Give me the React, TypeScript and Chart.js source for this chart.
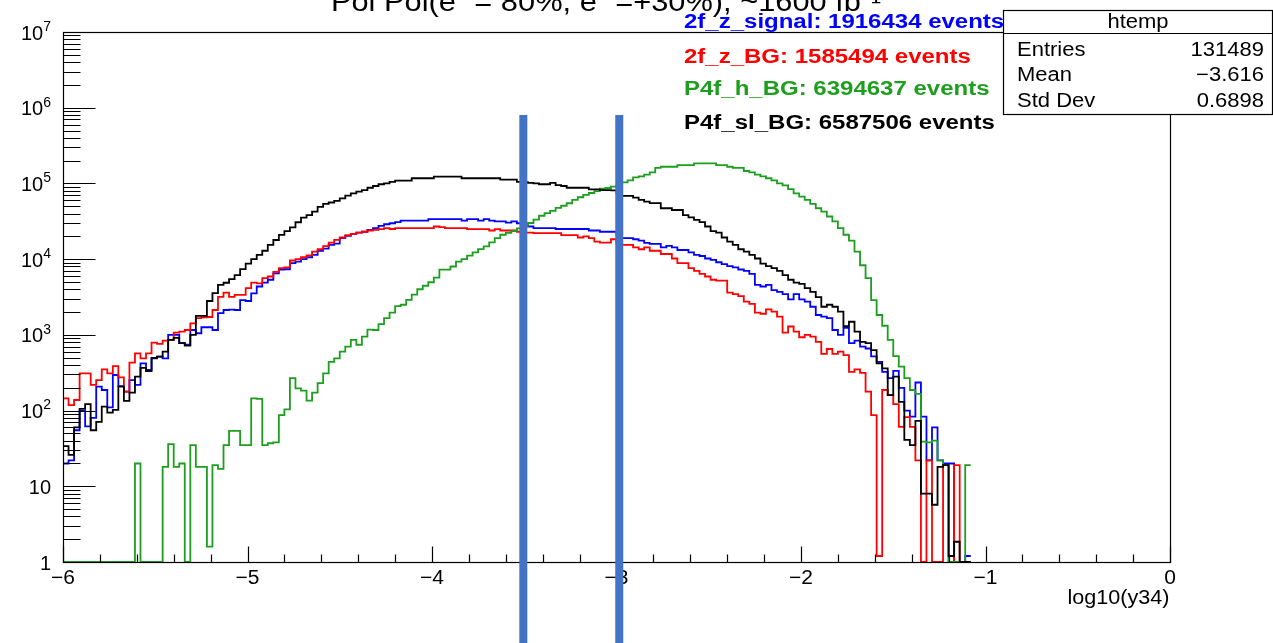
import React, { useEffect, useRef } from "react";
import { Chart, registerables } from "chart.js";

Chart.register(...registerables);

// ---- histogram binning (bin lower edge of first bin, bin width) ----
const HIST_MIN = -6;
const BIN_WIDTH = 0.03;
const X_MIN = -6;
const X_MAX = 0;
const Y_MIN = 1;
const Y_MAX = 1e7;

// ---- series values, one per bin (bins of 0.03 in log10(y34), starting at -6) ----
const P4F_SL_BG = [
  34, 26, 60, 105, 122, 55, 71, 113, 94, 102,
  207, 134, 173, 280, 366, 333, 495, 515, 600, 860,
  910, 780, 720, 1000, 1780, 1780, 2800, 3550, 4560, 4880,
  5450, 6150, 7400, 8700, 10000, 11400, 12900, 15400, 17900, 20900,
  23500, 26300, 30700, 35300, 38200, 42500, 49000, 53700, 56000, 59000,
  63500, 69000, 74000, 78000, 81800, 87700, 92500, 97500, 100000, 105000,
  109000, 109000, 109000, 117000, 117000, 117000, 117000, 123000, 123000, 123000,
  123000, 123000, 117000, 117000, 117000, 117000, 117000, 117000, 117000, 112000,
  112000, 112000, 105000, 104000, 102000, 100000, 97500, 97500, 102000, 95000,
  92500, 87700, 87700, 87700, 87700, 83600, 83600, 81800, 81800, 81000,
  75000, 68400, 68400, 65000, 60700, 57500, 55000, 55000, 47000, 47000,
  44600, 44600, 38200, 35600, 33000, 30800, 27000, 23500, 22400, 19300,
  17000, 15400, 13500, 12600, 11400, 10200, 8700, 8100, 7600, 7000,
  6150, 5340, 4900, 4700, 4140, 3700, 3150, 2350, 2500, 2350,
  2030, 1300, 1490, 1100, 810, 780, 630, 420, 360, 160,
  280, 130, 41, 35, 73, 8, 8, 5.7, 18, 19,
  1.2, 1.85, 0, 0,
];

const Z2F_SIGNAL = [
  20, 22, 55, 99, 62, 80, 207, 187, 110, 295,
  210, 178, 253, 218, 420, 345, 490, 515, 490, 1000,
  1000, 780, 740, 1160, 1050, 1260, 1260, 1160, 1940, 2130,
  2150, 2130, 2870, 2800, 3540, 4350, 4900, 5340, 6500, 7250,
  7350, 8850, 9300, 10000, 10600, 11400, 12900, 13800, 15400, 16000,
  19000, 20300, 21600, 22400, 23000, 24400, 25700, 27500, 28900, 29800,
  30800, 32200, 32200, 32200, 32200, 32200, 33700, 33700, 33700, 33700,
  33700, 33700, 32200, 33700, 33700, 32200, 33700, 32200, 31500, 31500,
  30400, 31500, 29800, 28000, 27000, 25700, 25700, 25700, 25700, 25000,
  25000, 25000, 25000, 25000, 25000, 23900, 23900, 23000, 23000, 23000,
  21000, 19000, 19000, 18300, 17600, 16400, 15900, 15900, 14300, 15000,
  14300, 13200, 13200, 12300, 11400, 11000, 10200, 9800, 9100, 8600,
  8100, 7800, 7300, 7000, 6400, 4560, 4350, 4560, 3900, 3700,
  3450, 2950, 3450, 2950, 2750, 2350, 1830, 1740, 1660, 1160,
  1000, 1240, 780, 840, 700, 660, 520, 440, 325, 268,
  335, 200, 100, 83, 235, 83, 22, 60, 22, 20,
  20, 0, 0, 1.2,
];

const Z2F_BG = [
  145, 118, 138, 310, 310, 218, 253, 350, 310, 387,
  275, 178, 430, 570, 490, 570, 790, 760, 840, 860,
  1070, 1100, 1160, 1420, 1660, 1700, 1720, 2130, 3170, 3620,
  3170, 3380, 3380, 4140, 4900, 4800, 5600, 5900, 6800, 7600,
  7800, 9600, 10000, 10600, 11200, 12600, 13500, 14900, 16500, 18000,
  19300, 20800, 21600, 22400, 23000, 23900, 24400, 24900, 25700, 25000,
  25700, 25700, 25700, 25700, 25700, 25700, 25700, 27000, 26500, 25700,
  25700, 25700, 25700, 24900, 24900, 24900, 24900, 23900, 24900, 23900,
  23900, 23900, 23000, 22400, 22400, 22000, 22000, 22000, 22000, 22000,
  20800, 20800, 20800, 19300, 20000, 19000, 17000, 16500, 16500, 18300,
  16000, 15400, 15400, 14300, 13500, 14300, 12900, 12900, 11700, 11700,
  10200, 8850, 8850, 7600, 7000, 6400, 5900, 5340, 5200, 5200,
  3620, 3450, 3250, 2750, 2560, 1970, 1900, 2170, 2030, 1740,
  1070, 1290, 1100, 930, 1000, 950, 810, 560, 650, 560,
  600, 540, 325, 350, 315, 178, 87, 1.2, 187, 160,
  122, 61, 82, 61, 22, 0, 22, 0, 0, 19,
  0, 19, 0, 0,
];

const P4F_H_BG = [
  0, 0, 0, 0, 0, 0, 0, 0, 0, 0,
  0, 0, 0, 20, 0, 0, 0, 0, 18, 36,
  18, 20, 0, 35, 18, 18, 1.6, 19, 17, 35,
  54, 54, 35, 35, 145, 143, 35, 37, 38, 87,
  104, 268, 197, 183, 135, 173, 230, 310, 440, 490,
  600, 700, 860, 740, 950, 1170, 1160, 1390, 1660, 1970,
  2400, 2500, 2900, 3400, 4000, 4450, 4950, 5700, 7250, 7250,
  8000, 9300, 10000, 11100, 12300, 13600, 14700, 16700, 18900, 21000,
  22300, 23500, 25500, 27500, 30000, 33300, 37400, 40500, 43500, 47500,
  50700, 54700, 60500, 65700, 70500, 74700, 79000, 85000, 87000, 91000,
  96000, 103000, 110000, 120000, 124000, 131000, 140000, 160000, 166000, 166000,
  166000, 175000, 175000, 175000, 184000, 184000, 184000, 184000, 175000, 175000,
  166000, 160000, 160000, 146000, 140000, 131000, 124000, 117000, 110000, 100000,
  94000, 84000, 74000, 67000, 60700, 53700, 47000, 42500, 36600, 31500,
  25700, 21000, 17600, 12600, 8300, 5600, 2870, 1830, 1320, 860,
  525, 380, 268, 187, 166, 39, 38, 40, 22, 19,
  0, 0, 0, 19,
];

// ---- texts ----
const TITLE = "Pol Pol(e\u207B = 80%, e\u207A =+30%), ~1600 fb\u207B\u00B9";
const LEGEND_TEXTS = [
  "2f_z_signal: 1916434 events",
  "2f_z_BG: 1585494 events",
  "P4f_h_BG: 6394637 events",
  "P4f_sl_BG: 6587506 events",
];
const STATS_TITLE = "htemp";
const STATS_NAMES = ["Entries", "Mean", "Std Dev"];
const STATS_VALUES = ["131489", "\u22123.616", "0.6898"];
const X_TICK_VALUES = [-6, -5, -4, -3, -2, -1, 0];
const X_TICK_LABELS = ["\u22126", "\u22125", "\u22124", "\u22123", "\u22122", "\u22121", "0"];
const X_MINOR_STEP = 0.2;
const Y_DECADES = [0, 1, 2, 3, 4, 5, 6, 7];
const Y_TICK_BASES = ["1", "10", "10", "10", "10", "10", "10", "10"];
const Y_TICK_EXPONENTS = ["", "", "2", "3", "4", "5", "6", "7"];
const X_TITLE = "log10(y34)";
const CUT_VALUES = [-3.505, -2.985];
const CUT_TOP_VALUE = 8e5;

// ---- styles ----
const COLORS = {
  signal: "#0000ff",
  zbg: "#ff0000",
  hbg: "#1e9e1e",
  slbg: "#000000",
  cut: "#4472c4",
};
const FONT = '"Liberation Sans", Arial, Helvetica, sans-serif';

function drawText(
  ctx: CanvasRenderingContext2D,
  text: string,
  x: number,
  y: number,
  font: string,
  color: string,
  align: "left" | "center" | "right",
  sx = 1
) {
  ctx.save();
  ctx.font = font;
  ctx.fillStyle = color;
  ctx.textBaseline = "middle";
  ctx.textAlign = "left";
  const w = ctx.measureText(text).width * sx;
  const x0 = align === "left" ? x : align === "center" ? x - w / 2 : x - w;
  ctx.translate(x0, y);
  ctx.scale(sx, 1);
  ctx.fillText(text, 0, 0);
  ctx.restore();
}

function textWidth(ctx: CanvasRenderingContext2D, text: string, font: string, sx = 1) {
  ctx.save();
  ctx.font = font;
  const w = ctx.measureText(text).width * sx;
  ctx.restore();
  return w;
}

export default function App() {
  const canvasRef = useRef<HTMLCanvasElement | null>(null);

  useEffect(() => {
    document.body.style.margin = "0";
    const canvas = canvasRef.current;
    if (!canvas) return;

    const toPoints = (vals: number[]) => {
      const pts = vals.map((v, i) => ({ x: HIST_MIN + i * BIN_WIDTH, y: Math.max(v, Y_MIN) }));
      pts.push({
        x: HIST_MIN + vals.length * BIN_WIDTH,
        y: Math.max(vals[vals.length - 1], Y_MIN),
      });
      return pts;
    };

    const bgPlugin = {
      id: "whiteBg",
      beforeDraw(chart: any) {
        const ctx = chart.ctx;
        ctx.save();
        ctx.fillStyle = "#ffffff";
        ctx.fillRect(0, 0, chart.width, chart.height);
        ctx.restore();
      },
    };

    const decorPlugin = {
      id: "rootDecor",
      afterDraw(chart: any) {
        const ctx: CanvasRenderingContext2D = chart.ctx;
        const xs = chart.scales.x;
        const ys = chart.scales.y;
        const { left, right, top, bottom } = chart.chartArea;
        const L = Math.round(left) + 0.5;
        const R = Math.round(right) + 0.5;
        const T = Math.round(top) + 0.5;
        const B = Math.round(bottom) + 0.5;

        ctx.save();
        ctx.strokeStyle = "#000";
        ctx.lineWidth = 1.2;
        // frame
        ctx.strokeRect(L, T, R - L, B - T);

        // y ticks
        ctx.beginPath();
        Y_DECADES.forEach((d) => {
          const py = Math.round(ys.getPixelForValue(Math.pow(10, d))) + 0.5;
          ctx.moveTo(L, py);
          ctx.lineTo(L + 32, py);
          if (d < Y_DECADES[Y_DECADES.length - 1]) {
            for (let m = 2; m <= 9; m++) {
              const pm = Math.round(ys.getPixelForValue(m * Math.pow(10, d))) + 0.5;
              ctx.moveTo(L, pm);
              ctx.lineTo(L + 17, pm);
            }
          }
        });
        // x ticks
        const nMinor = Math.round((X_MAX - X_MIN) / X_MINOR_STEP);
        for (let k = 0; k <= nMinor; k++) {
          const v = X_MIN + k * X_MINOR_STEP;
          const isMajor = X_TICK_VALUES.some((t) => Math.abs(t - v) < 1e-6);
          const px = Math.round(xs.getPixelForValue(v)) + 0.5;
          ctx.moveTo(px, B);
          ctx.lineTo(px, B - (isMajor ? 16 : 8));
        }
        ctx.stroke();

        // y labels
        const baseFont = `20px ${FONT}`;
        const supFont = `14px ${FONT}`;
        Y_DECADES.forEach((d, i) => {
          const py = ys.getPixelForValue(Math.pow(10, d));
          const exp = Y_TICK_EXPONENTS[i];
          const labelRight = 51;
          if (exp) {
            const sw = textWidth(ctx, exp, supFont);
            drawText(ctx, Y_TICK_BASES[i], labelRight - sw, py + 2, baseFont, "#000", "right");
            drawText(ctx, exp, labelRight - sw, py - 5, supFont, "#000", "left");
          } else {
            drawText(ctx, Y_TICK_BASES[i], labelRight, py + 2, baseFont, "#000", "right");
          }
        });

        // x labels
        X_TICK_VALUES.forEach((v, i) => {
          const px = xs.getPixelForValue(v);
          drawText(ctx, X_TICK_LABELS[i], px, B + 16, baseFont, "#000", "center", 1.05);
        });
        drawText(ctx, X_TITLE, R - 1, 598, `20px ${FONT}`, "#000", "right", 1.08);

        // title (partly off canvas)
        drawText(ctx, TITLE, 606, 3, `28px ${FONT}`, "#000", "center", 1.1);

        // cut lines
        ctx.strokeStyle = COLORS.cut;
        ctx.lineWidth = 8;
        CUT_VALUES.forEach((v) => {
          const px = xs.getPixelForValue(v);
          const py = ys.getPixelForValue(CUT_TOP_VALUE);
          ctx.beginPath();
          ctx.moveTo(px, py);
          ctx.lineTo(px, chart.height);
          ctx.stroke();
        });

        // legend texts
        const legendColors = [COLORS.signal, COLORS.zbg, COLORS.hbg, COLORS.slbg];
        const legendY = [22, 57, 89, 123];
        LEGEND_TEXTS.forEach((t, i) => {
          drawText(ctx, t, 684, legendY[i], `bold 20px ${FONT}`, legendColors[i], "left", 1.2);
        });

        // stats box
        const bx0 = 1003.5, by0 = 10.5, bx1 = 1272.5, by1 = 114.5, sep = 33.5;
        ctx.fillStyle = "#fff";
        ctx.fillRect(bx0, by0, bx1 - bx0, by1 - by0);
        ctx.strokeStyle = "#000";
        ctx.lineWidth = 1.2;
        ctx.strokeRect(bx0, by0, bx1 - bx0, by1 - by0);
        ctx.beginPath();
        ctx.moveTo(bx0, sep);
        ctx.lineTo(bx1, sep);
        ctx.stroke();
        drawText(ctx, STATS_TITLE, (bx0 + bx1) / 2, 22, `20px ${FONT}`, "#000", "center", 1.1);
        const rowY = [50, 75, 101];
        STATS_NAMES.forEach((n, i) => {
          drawText(ctx, n, 1017, rowY[i], `20px ${FONT}`, "#000", "left", 1.1);
          drawText(ctx, STATS_VALUES[i], 1264, rowY[i], `20px ${FONT}`, "#000", "right", 1.1);
        });
        ctx.restore();
      },
    };

    const mk = (label: string, vals: number[], color: string, order: number) => ({
      label,
      data: toPoints(vals),
      borderColor: color,
      backgroundColor: color,
      borderWidth: 1.8,
      pointRadius: 0,
      pointHoverRadius: 0,
      fill: false,
      stepped: true,
      tension: 0,
      order,
    });

    const chart = new Chart(canvas, {
      type: "line",
      data: {
        datasets: [
          mk(LEGEND_TEXTS[0], Z2F_SIGNAL, COLORS.signal, 3),
          mk(LEGEND_TEXTS[1], Z2F_BG, COLORS.zbg, 2),
          mk(LEGEND_TEXTS[2], P4F_H_BG, COLORS.hbg, 1),
          mk(LEGEND_TEXTS[3], P4F_SL_BG, COLORS.slbg, 0),
        ],
      },
      options: {
        responsive: false,
        devicePixelRatio: 1,
        animation: false,
        events: [],
        layout: { padding: { left: 63, top: 32, right: 103, bottom: 81 } },
        plugins: {
          legend: { display: false },
          tooltip: { enabled: false },
          title: { display: false },
        },
        scales: {
          x: { type: "linear", min: X_MIN, max: X_MAX, display: false },
          y: { type: "logarithmic", min: Y_MIN, max: Y_MAX, display: false },
        },
      },
      plugins: [bgPlugin, decorPlugin],
    } as any);

    return () => chart.destroy();
  }, []);

  return <canvas ref={canvasRef} width={1273} height={643} style={{ display: "block" }} />;
}
